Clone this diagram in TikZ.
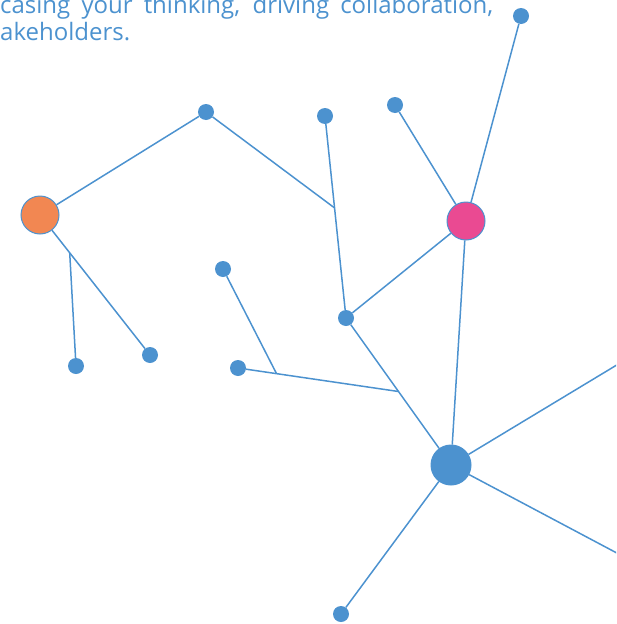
\documentclass[tikz,border=0pt]{standalone}
\usepackage{fontspec}
\setmainfont{Open Sans}
\usetikzlibrary{calc}
\definecolor{netblue}{RGB}{76,146,207}
\definecolor{netorange}{RGB}{242,135,82}
\definecolor{netpink}{RGB}{234,74,146}

\begin{document}
\begin{tikzpicture}[x=1pt,y=-1pt,
  link/.style={netblue, line width=1.5pt},
  caption/.style={anchor=base west, inner sep=0pt, text=netblue, font=\fontsize{24}{28}\selectfont},
  dot/.style={circle, fill=netblue, inner sep=0pt, minimum size=16pt},
  hub/.style={circle, draw=netblue, line width=1pt, inner sep=0pt, minimum size=38pt}]
\useasboundingbox (0,0) rectangle (616,624);
\clip (0,0) rectangle (616,624);

% Caption text (cut off by the frame)
\node[caption] (line1) at (0,13) {\makebox[493pt][s]{casing your thinking, driving collaboration,}};
\node[caption] (line2) at (0,40) {akeholders.};

% Hubs
\node[hub, fill=netorange] (orange) at (40,215) {};
\node[hub, fill=netpink] (pink) at (466,221) {};
\node[hub, fill=netblue, minimum size=40pt] (center) at (451,465) {};

% Leaves
\node[dot] (top) at (521,16) {};
\node[dot] (apex) at (206,112) {};
\node[dot] (tall) at (325,116) {};
\node[dot] (twig) at (395,105) {};
\node[dot] (left) at (223,269) {};
\node[dot] (mid) at (346,318) {};
\node[dot] (foot) at (76,366) {};
\node[dot] (heel) at (150,355) {};
\node[dot] (low) at (238,368) {};
\node[dot] (bottom) at (341,614) {};
\coordinate (east) at (630,357);
\coordinate (southeast) at (630,560);

% Junctions on lines
\coordinate (j1) at ($(tall)!0.455!(mid)$);
\coordinate (j2) at ($(orange)!0.27!(heel)$);
\coordinate (j4) at ($(mid)!0.5!(center)$);
\coordinate (j3) at ($(low)!0.24!(j4)$);

% Links
\draw[link] (orange) -- (apex);
\draw[link] (apex) -- (j1);
\draw[link] (tall) -- (mid);
\draw[link] (orange) -- (heel);
\draw[link] (j2) -- (foot);
\draw[link] (twig) -- (pink);
\draw[link] (top) -- (pink);
\draw[link] (pink) -- (mid);
\draw[link] (pink) -- (center);
\draw[link] (mid) -- (center);
\draw[link] (low) -- (j4);
\draw[link] (left) -- (j3);
\draw[link] (center) -- (bottom);
\draw[link] (center) -- (east);
\draw[link] (center) -- (southeast);
\end{tikzpicture}
\end{document}
